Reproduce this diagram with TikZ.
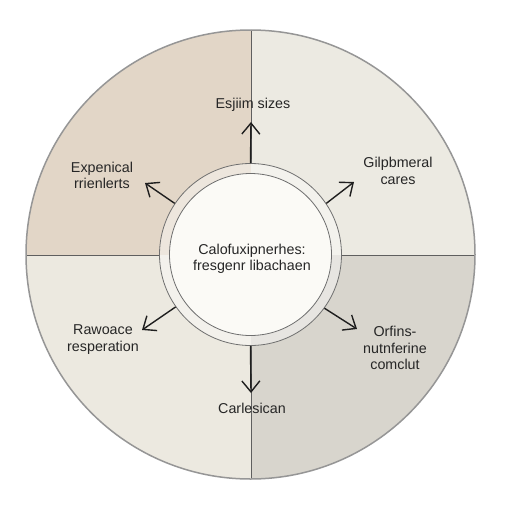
\documentclass[tikz,border=0pt]{standalone}
\usepackage{fontspec}
\setmainfont{Liberation Sans}
\usetikzlibrary{arrows.meta}
\definecolor{qul}{RGB}{226,214,199}
\definecolor{qur}{RGB}{236,234,226}
\definecolor{qll}{RGB}{236,233,224}
\definecolor{qlr}{RGB}{216,213,205}
\definecolor{rimc}{RGB}{150,150,150}
\definecolor{divc}{RGB}{95,95,95}
\definecolor{corec}{RGB}{251,250,246}
\definecolor{txtc}{RGB}{38,38,38}
\tikzset{
  lbl/.style={font=\fontsize{14.3}{16.5}\selectfont, text=txtc, align=center, inner sep=0pt},
  arr/.style={draw=black!88, line width=1.4pt, -{Straight Barb[length=11pt,width=18pt,line width=1.4pt]}},
  divline/.style={draw=divc, line width=0.8pt},
}
\begin{document}
\begin{tikzpicture}[x=1pt,y=-1pt]
\useasboundingbox (0,0) rectangle (512,512);
\fill[white] (0,0) rectangle (512,512);
\coordinate (C) at (250.5,254.5);
\begin{scope}
  \clip (C) circle[radius=224.5pt];
  \fill[qul] (0,0) rectangle (251,255);
  \fill[qur] (251,0) rectangle (512,255);
  \fill[qll] (0,255) rectangle (251,512);
  \fill[qlr] (251,255) rectangle (512,512);
\end{scope}
\draw[divline] (251,29.5) -- (251,164);
\draw[divline] (251,345) -- (251,479);
\draw[divline] (26,255) -- (160,255);
\draw[divline] (341,255) -- (475,255);
\draw[rimc, line width=1.5pt] (C) circle[radius=224.5pt];
% ring and core
\node[circle, minimum size=182pt, inner sep=0pt, draw=divc!90, line width=0.8pt, fill=white, fill opacity=0.4] (ring) at (C) {};
\node[circle, minimum size=162pt, inner sep=0pt, draw=divc!90, line width=0.8pt, fill=corec] (core) at (C) {};
\node[lbl] (ctext) at (252,259) {Calofuxipnerhes:\\fresgenr libachaen};
% arrow tips
\coordinate (tN) at (251,122);
\coordinate (tS) at (251,393);
\coordinate (tNW) at (145,183);
\coordinate (tNE) at (354,182);
\coordinate (tSE) at (357,329);
\coordinate (tSW) at (142,330);
\draw[arr] (ring.north) -- (tN);
\draw[arr] (ring.south) -- (tS);
\draw[arr] (ring.146) -- (tNW);
\draw[arr] (ring.34) -- (tNE);
\draw[arr] (ring.-36) -- (tSE);
\draw[arr] (ring.215) -- (tSW);
% labels
\node[lbl] (lN) at (253,105) {Esjiim sizes};
\node[lbl] (lNW) at (102,175.5) {Expenical\\rrienlerts};
\node[lbl] (lNE) at (398,171) {Gilpbmeral\\cares};
\node[lbl] (lSW) at (103,339.5) {Rawoace\\resperation};
\node[lbl] (lSE) at (395,348) {Orfins-\\nutnferine\\comclut};
\node[lbl] (lS) at (252,408) {Carlesican};
\end{tikzpicture}
\end{document}
